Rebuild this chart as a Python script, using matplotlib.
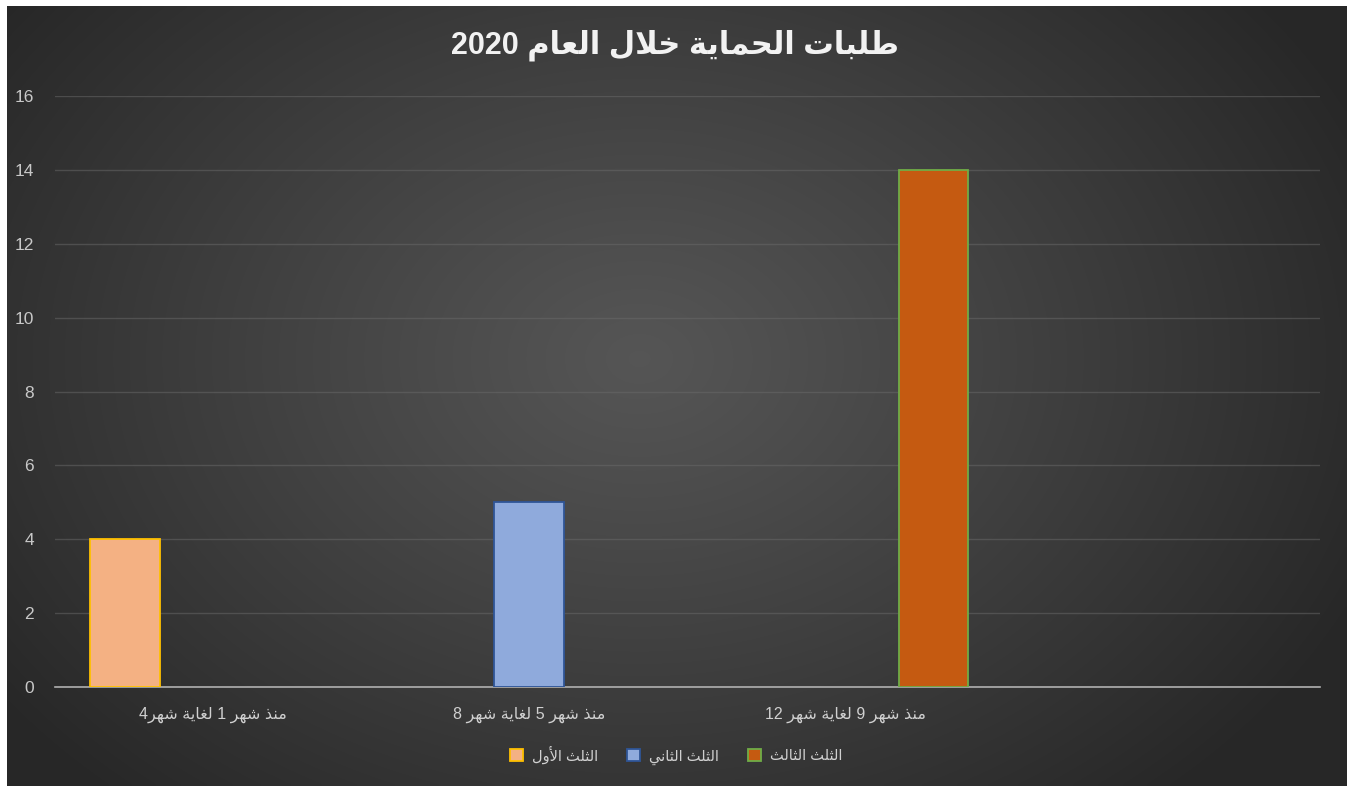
import re
import numpy as np
import matplotlib
matplotlib.use("Agg")
import matplotlib.pyplot as plt
from matplotlib.patches import Patch

# ---- data ----
title = "طلبات الحماية خلال العام 2020"
categories = ["منذ شهر 1 لغاية شهر4", "منذ شهر 5 لغاية شهر 8", "منذ شهر 9 لغاية شهر 12", ""]
series_names = ["الثلث الأول", "الثلث الثاني", "الثلث الثالث"]
first_third = [4, None, None, None]
second_third = [None, 5, None, None]
third_third = [None, None, 14, None]
series_values = [first_third, second_third, third_third]
fill_colors = ["#F4B183", "#8FAADC", "#C55A11"]
edge_colors = ["#FFC000", "#2F5597", "#70AD47"]

# ---- minimal arabic shaping (matplotlib has no complex text layout) ----
FORMS = {
    'ا': (0xFE8D, 0xFE8E, None, None),
    'أ': (0xFE83, 0xFE84, None, None),
    'ب': (0xFE8F, 0xFE90, 0xFE91, 0xFE92),
    'ة': (0xFE93, 0xFE94, None, None),
    'ت': (0xFE95, 0xFE96, 0xFE97, 0xFE98),
    'ث': (0xFE99, 0xFE9A, 0xFE9B, 0xFE9C),
    'ح': (0xFEA1, 0xFEA2, 0xFEA3, 0xFEA4),
    'خ': (0xFEA5, 0xFEA6, 0xFEA7, 0xFEA8),
    'ذ': (0xFEAB, 0xFEAC, None, None),
    'ر': (0xFEAD, 0xFEAE, None, None),
    'ش': (0xFEB5, 0xFEB6, 0xFEB7, 0xFEB8),
    'ط': (0xFEC1, 0xFEC2, 0xFEC3, 0xFEC4),
    'ع': (0xFEC9, 0xFECA, 0xFECB, 0xFECC),
    'غ': (0xFECD, 0xFECE, 0xFECF, 0xFED0),
    'ل': (0xFEDD, 0xFEDE, 0xFEDF, 0xFEE0),
    'م': (0xFEE1, 0xFEE2, 0xFEE3, 0xFEE4),
    'ن': (0xFEE5, 0xFEE6, 0xFEE7, 0xFEE8),
    'ه': (0xFEE9, 0xFEEA, 0xFEEB, 0xFEEC),
    'و': (0xFEED, 0xFEEE, None, None),
    'ي': (0xFEF1, 0xFEF2, 0xFEF3, 0xFEF4),
}
LAM_ALEF = {'ا': (0xFEFB, 0xFEFC), 'أ': (0xFEF7, 0xFEF8)}


def shape(text):
    chars = list(text)
    out = []
    i = 0
    while i < len(chars):
        c = chars[i]
        if c not in FORMS:
            out.append(c)
            i += 1
            continue
        prev = chars[i - 1] if i > 0 else None
        joins_prev = prev in FORMS and FORMS[prev][2] is not None
        nxt = chars[i + 1] if i + 1 < len(chars) else None
        if c == 'ل' and nxt in LAM_ALEF:
            iso, fin = LAM_ALEF[nxt]
            out.append(chr(fin if joins_prev else iso))
            i += 2
            continue
        iso, fin, ini, med = FORMS[c]
        joins_next = ini is not None and nxt in FORMS
        if joins_prev and joins_next:
            out.append(chr(med))
        elif joins_prev:
            out.append(chr(fin))
        elif joins_next:
            out.append(chr(ini))
        else:
            out.append(chr(iso))
        i += 1
    vis = "".join(out)[::-1]
    return re.sub(r"\d+", lambda m: m.group()[::-1], vis)


plt.rcParams['font.family'] = ['Liberation Sans', 'DejaVu Sans']

W, H = 1347, 786
fig = plt.figure(figsize=(W / 100, H / 100), dpi=100)
fig.patch.set_facecolor("white")

# radial gradient background
bg = fig.add_axes([7 / W, 0, 1 - 7 / W, 1 - 6 / H])
yy, xx = np.mgrid[0:200, 0:340]
r = np.sqrt(((xx - 160) / 200.0) ** 2 + ((yy - 90) / 150.0) ** 2)
r = np.clip(r, 0, 1)
shade = 0.335 - (0.335 - 0.155) * r ** 1.1
bg.imshow(np.dstack([shade] * 3), aspect="auto", interpolation="bilinear")
bg.axis("off")
bg.set_zorder(0)

left, right, top, bottom = 55, 1320, 96, 687
ax = fig.add_axes([left / W, 1 - bottom / H, (right - left) / W, (bottom - top) / H])
ax.set_zorder(1)
ax.patch.set_alpha(0)

x = np.arange(len(categories))
offset = 0.278
width = 0.221
for k, vals in enumerate(series_values):
    xs = [x[j] + (k - 1) * offset for j, v in enumerate(vals) if v is not None]
    hs = [v for v in vals if v is not None]
    ax.bar(xs, hs, width=width, color=fill_colors[k], edgecolor=edge_colors[k],
           linewidth=1.3, zorder=3)

ax.set_xlim(-0.5, len(categories) - 0.5)
ax.set_ylim(0, 16)
ax.set_yticks(range(0, 17, 2))
ax.set_xticks(x)
ax.set_xticklabels([shape(c) for c in categories], color="#D0D0D0", fontsize=11.5)
ax.tick_params(axis="y", colors="#C8C8C8", labelsize=12.5, length=0, pad=15)
ax.tick_params(axis="x", length=0, pad=14)
ax.grid(axis="y", color="#6a6a6a", linewidth=1, alpha=0.5, zorder=0)
for s in ["top", "right", "left"]:
    ax.spines[s].set_visible(False)
ax.spines["bottom"].set_color("#B0B0B0")
ax.spines["bottom"].set_linewidth(1.2)

fig.text(675 / W, 1 - 45 / H, shape(title), ha="center", va="center",
         fontsize=22, fontweight="bold", color="#F2F2F2")

handles = [Patch(facecolor=fill_colors[k], edgecolor=edge_colors[k], linewidth=1.3)
           for k in range(3)]
leg = fig.legend(handles, [shape(n) for n in series_names], loc="center",
                 bbox_to_anchor=(676 / W, 1 - 755 / H), ncol=3, frameon=False,
                 fontsize=10.5, handlelength=0.9, handleheight=0.9,
                 handletextpad=0.6, columnspacing=2.0)
for t in leg.get_texts():
    t.set_color("#D0D0D0")

fig.savefig("out.png", dpi=100)
